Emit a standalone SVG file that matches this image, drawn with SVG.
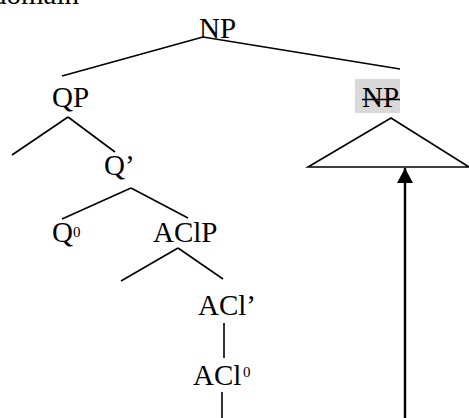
<svg xmlns="http://www.w3.org/2000/svg" width="469" height="418" viewBox="0 0 469 418">
  <style>
    .lbl { font-family: "Liberation Serif", "Times New Roman", serif; font-size: 29px; fill: #000; }
    .sup { font-family: "Liberation Serif", "Times New Roman", serif; font-size: 15px; fill: #000; }
    .edge { stroke: #000; stroke-width: 1.6; fill: none; stroke-linecap: butt; }
    .move { stroke: #000; stroke-width: 2.4; fill: none; }
  </style>
  <defs>
    <!-- solid arrowhead, tip along +x so orient="auto" follows the line -->
    <marker id="arrowhead" markerUnits="userSpaceOnUse" markerWidth="16" markerHeight="16" viewBox="0 0 16 16" refX="15" refY="8" orient="auto">
      <path d="M0 0 L15 8 L0 16 Z" fill="#000"/>
    </marker>
  </defs>

  <rect width="469" height="418" fill="#fff"/>

  <!-- heading text cut off by the top edge -->
  <text class="lbl" x="-8" y="4">domain</text>

  <!-- tree branches -->
  <g id="connectors">
    <line class="edge" x1="203" y1="37" x2="62" y2="76"/>
    <line class="edge" x1="203" y1="37" x2="400" y2="69"/>
    <line class="edge" x1="68" y1="117" x2="12" y2="155"/>
    <line class="edge" x1="68" y1="117" x2="115" y2="152"/>
    <line class="edge" x1="131" y1="188" x2="62" y2="219"/>
    <line class="edge" x1="131" y1="188" x2="188" y2="218"/>
    <line class="edge" x1="178" y1="248" x2="121" y2="281"/>
    <line class="edge" x1="178" y1="248" x2="223" y2="279"/>
    <line class="edge" x1="224" y1="323" x2="224" y2="358"/>
    <line class="edge" x1="222" y1="392" x2="222" y2="418"/>
    <!-- movement arrow up into the deleted NP -->
    <line class="move" x1="405" y1="418" x2="405" y2="168" marker-end="url(#arrowhead)"/>
  </g>

  <g id="np-root">
    <text class="lbl" x="199" y="38">NP</text>
  </g>
  <g id="qp">
    <text class="lbl" x="52" y="107">QP</text>
  </g>
  <g id="q-bar">
    <text class="lbl" x="104" y="175">Q’</text>
  </g>
  <g id="q-head">
    <text class="lbl" x="52" y="242">Q</text>
    <text class="sup" x="73" y="237">0</text>
  </g>
  <g id="aclp">
    <text class="lbl" x="153" y="242">AClP</text>
  </g>
  <g id="acl-bar">
    <text class="lbl" x="198" y="315">ACl’</text>
  </g>
  <g id="acl-head">
    <text class="lbl" x="193" y="385">ACl</text>
    <text class="sup" x="243" y="377">0</text>
  </g>
  <g id="np-deleted">
    <rect x="355" y="79" width="45" height="34" fill="#d9d9d9"/>
    <text class="lbl" x="362" y="107">NP</text>
    <line x1="362" y1="99.5" x2="400" y2="99.5" stroke="#000" stroke-width="1.5"/>
    <path class="edge" d="M391 118 L308 167 L469 167 Z" stroke-linejoin="miter"/>
  </g>
</svg>
